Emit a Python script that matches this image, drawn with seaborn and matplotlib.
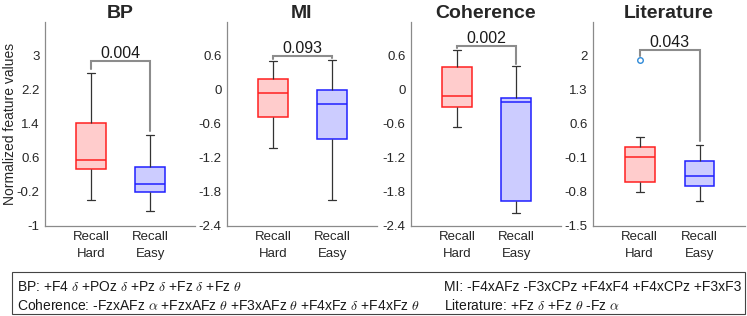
import numpy as np
import pandas as pd
import seaborn as sns
import matplotlib.pyplot as plt
from matplotlib.patches import Rectangle

panels = ['BP', 'MI', 'Coherence', 'Literature']
groups = ['Recall\nHard', 'Recall\nEasy']

# five-number summaries (low whisker, Q1, median, Q3, high whisker)
hard_lo = [-0.38, -1.03, -0.66, -0.80]
hard_q1 = [0.34, -0.47, -0.31, -0.59]
hard_med = [0.54, -0.05, -0.10, -0.08]
hard_q3 = [1.41, 0.19, 0.40, 0.13]
hard_hi = [2.60, 0.51, 0.71, 0.33]
hard_out = [[], [], [], [1.92]]

easy_lo = [-0.64, -1.95, -2.17, -0.99]
easy_q1 = [-0.20, -0.87, -1.96, -0.68]
easy_med = [-0.01, -0.25, -0.22, -0.47]
easy_q3 = [0.39, 0.00, -0.14, -0.17]
easy_hi = [1.13, 0.53, 0.42, 0.17]
easy_out = [[], [], [], []]

p_values = ['0.004', '0.093', '0.002', '0.043']
bracket_top = [2.87, 0.60, 0.77, 2.12]
bracket_left = [2.69, 0.55, 0.73, 1.99]
bracket_right = [1.23, 0.56, 0.45, 0.24]

ylims = [(-1, 3.8), (-2.4, 1.2), (-2.4, 1.2), (-1.5, 2.7)]
yticks = [[-1, -0.2, 0.6, 1.4, 2.2, 3],
          [-2.4, -1.8, -1.2, -0.6, 0, 0.6],
          [-2.4, -1.8, -1.2, -0.6, 0, 0.6],
          [-1.5, -0.8, -0.1, 0.6, 1.3, 2]]

footer_left = [r'BP: +F4 $\delta$ +POz $\delta$ +Pz $\delta$ +Fz $\delta$ +Fz $\theta$',
               r'Coherence: -FzxAFz $\alpha$ +FzxAFz $\theta$ +F3xAFz $\theta$ +F4xFz $\delta$ +F4xFz $\theta$']
footer_right = ['MI: -F4xAFz -F3xCPz +F4xF4 +F4xCPz +F3xF3',
                r'Literature: +Fz $\delta$ +Fz $\theta$ -Fz $\alpha$']


def box_values(lo, q1, med, q3, hi, out):
    # values whose quartiles and whisker ends reproduce the summary
    return [lo, q1, q1, med, med, q3, q3, hi] + list(out)


rows = []
for i, name in enumerate(panels):
    for v in box_values(hard_lo[i], hard_q1[i], hard_med[i], hard_q3[i], hard_hi[i], hard_out[i]):
        rows.append((name, groups[0], v))
    for v in box_values(easy_lo[i], easy_q1[i], easy_med[i], easy_q3[i], easy_hi[i], easy_out[i]):
        rows.append((name, groups[1], v))
df = pd.DataFrame(rows, columns=['panel', 'group', 'value'])

sns.set_theme(style="white")
plt.rcParams['font.family'] = ['Liberation Sans', 'DejaVu Sans']
plt.rcParams['mathtext.fontset'] = 'cm'

fig = plt.figure(figsize=(7.47, 3.16), dpi=100)
lefts = [45, 227, 411, 593]
widths = [150, 150, 150, 152]
face = {groups[0]: '#ffcccc', groups[1]: '#ccccff'}
edge = {groups[0]: '#ff2020', groups[1]: '#2020ff'}
axis_col = '#8a8a8a'
whisk_col = '#333333'

for i, name in enumerate(panels):
    ax = fig.add_axes([lefts[i] / 747, 0.285, widths[i] / 747, 0.646])
    for g in groups:
        sub = df[(df.panel == name) & (df.group == g)]
        sns.boxplot(data=sub, x='group', y='value', order=groups, ax=ax,
                    width=0.5, color=face[g], saturation=1, linecolor=edge[g],
                    linewidth=1.1,
                    whiskerprops=dict(color=whisk_col, linewidth=0.9),
                    capprops=dict(color=whisk_col, linewidth=0.9),
                    flierprops=dict(marker='o', markerfacecolor='none',
                                    markeredgecolor='#2f8ad8', markersize=4,
                                    markeredgewidth=1))
    # shorter caps, as in the original
    for ln in ax.lines:
        xd, yd = ln.get_data()
        if len(xd) == 2 and yd[0] == yd[1] and abs(xd[1] - xd[0]) < 0.45:
            c = (xd[0] + xd[1]) / 2
            ln.set_xdata([c - 0.065, c + 0.065])
    ax.set_xlim(-0.78, 1.76)
    ax.set_ylim(*ylims[i])
    ax.set_yticks(yticks[i])
    ax.set_yticklabels(['%g' % t for t in yticks[i]])
    ax.set_xlabel('')
    ax.set_ylabel('')
    for s in ['top', 'right']:
        ax.spines[s].set_visible(False)
    for s in ['left', 'bottom']:
        ax.spines[s].set_color(axis_col)
        ax.spines[s].set_linewidth(0.9)
    ax.tick_params(length=0, labelsize=9.5, colors='#262626', pad=4)
    for lab in ax.get_xticklabels():
        lab.set_linespacing(1.45)
    ax.set_title(name, fontsize=14, fontweight='bold', pad=3)

    # significance bracket
    ax.plot([0, 0, 1, 1], [bracket_left[i], bracket_top[i], bracket_top[i], bracket_right[i]],
            color='#8c8c8c', lw=1.5, solid_joinstyle='miter')
    ax.text(0.5, bracket_top[i], p_values[i], ha='center', va='bottom',
            fontsize=11.5, color='#1a1a1a')

    if i == 0:
        ax.set_ylabel('Normalized feature values', fontsize=10, color='#262626')
        ax.yaxis.set_label_coords(-28 / 150, 0.5)

fig.patches.append(Rectangle((12 / 747, 2 / 316), 733 / 747, 42 / 316,
                             transform=fig.transFigure, fill=False,
                             edgecolor='#444444', lw=0.8))
for j, (a, b) in enumerate(zip(footer_left, footer_right)):
    y = 1 - (287 + j * 18) / 316
    fig.text(17 / 747, y, a, fontsize=10, va='center', ha='left', color='#1a1a1a')
    fig.text(444 / 747, y, b, fontsize=10, va='center', ha='left', color='#1a1a1a')

fig.savefig('out.png', dpi=100)
